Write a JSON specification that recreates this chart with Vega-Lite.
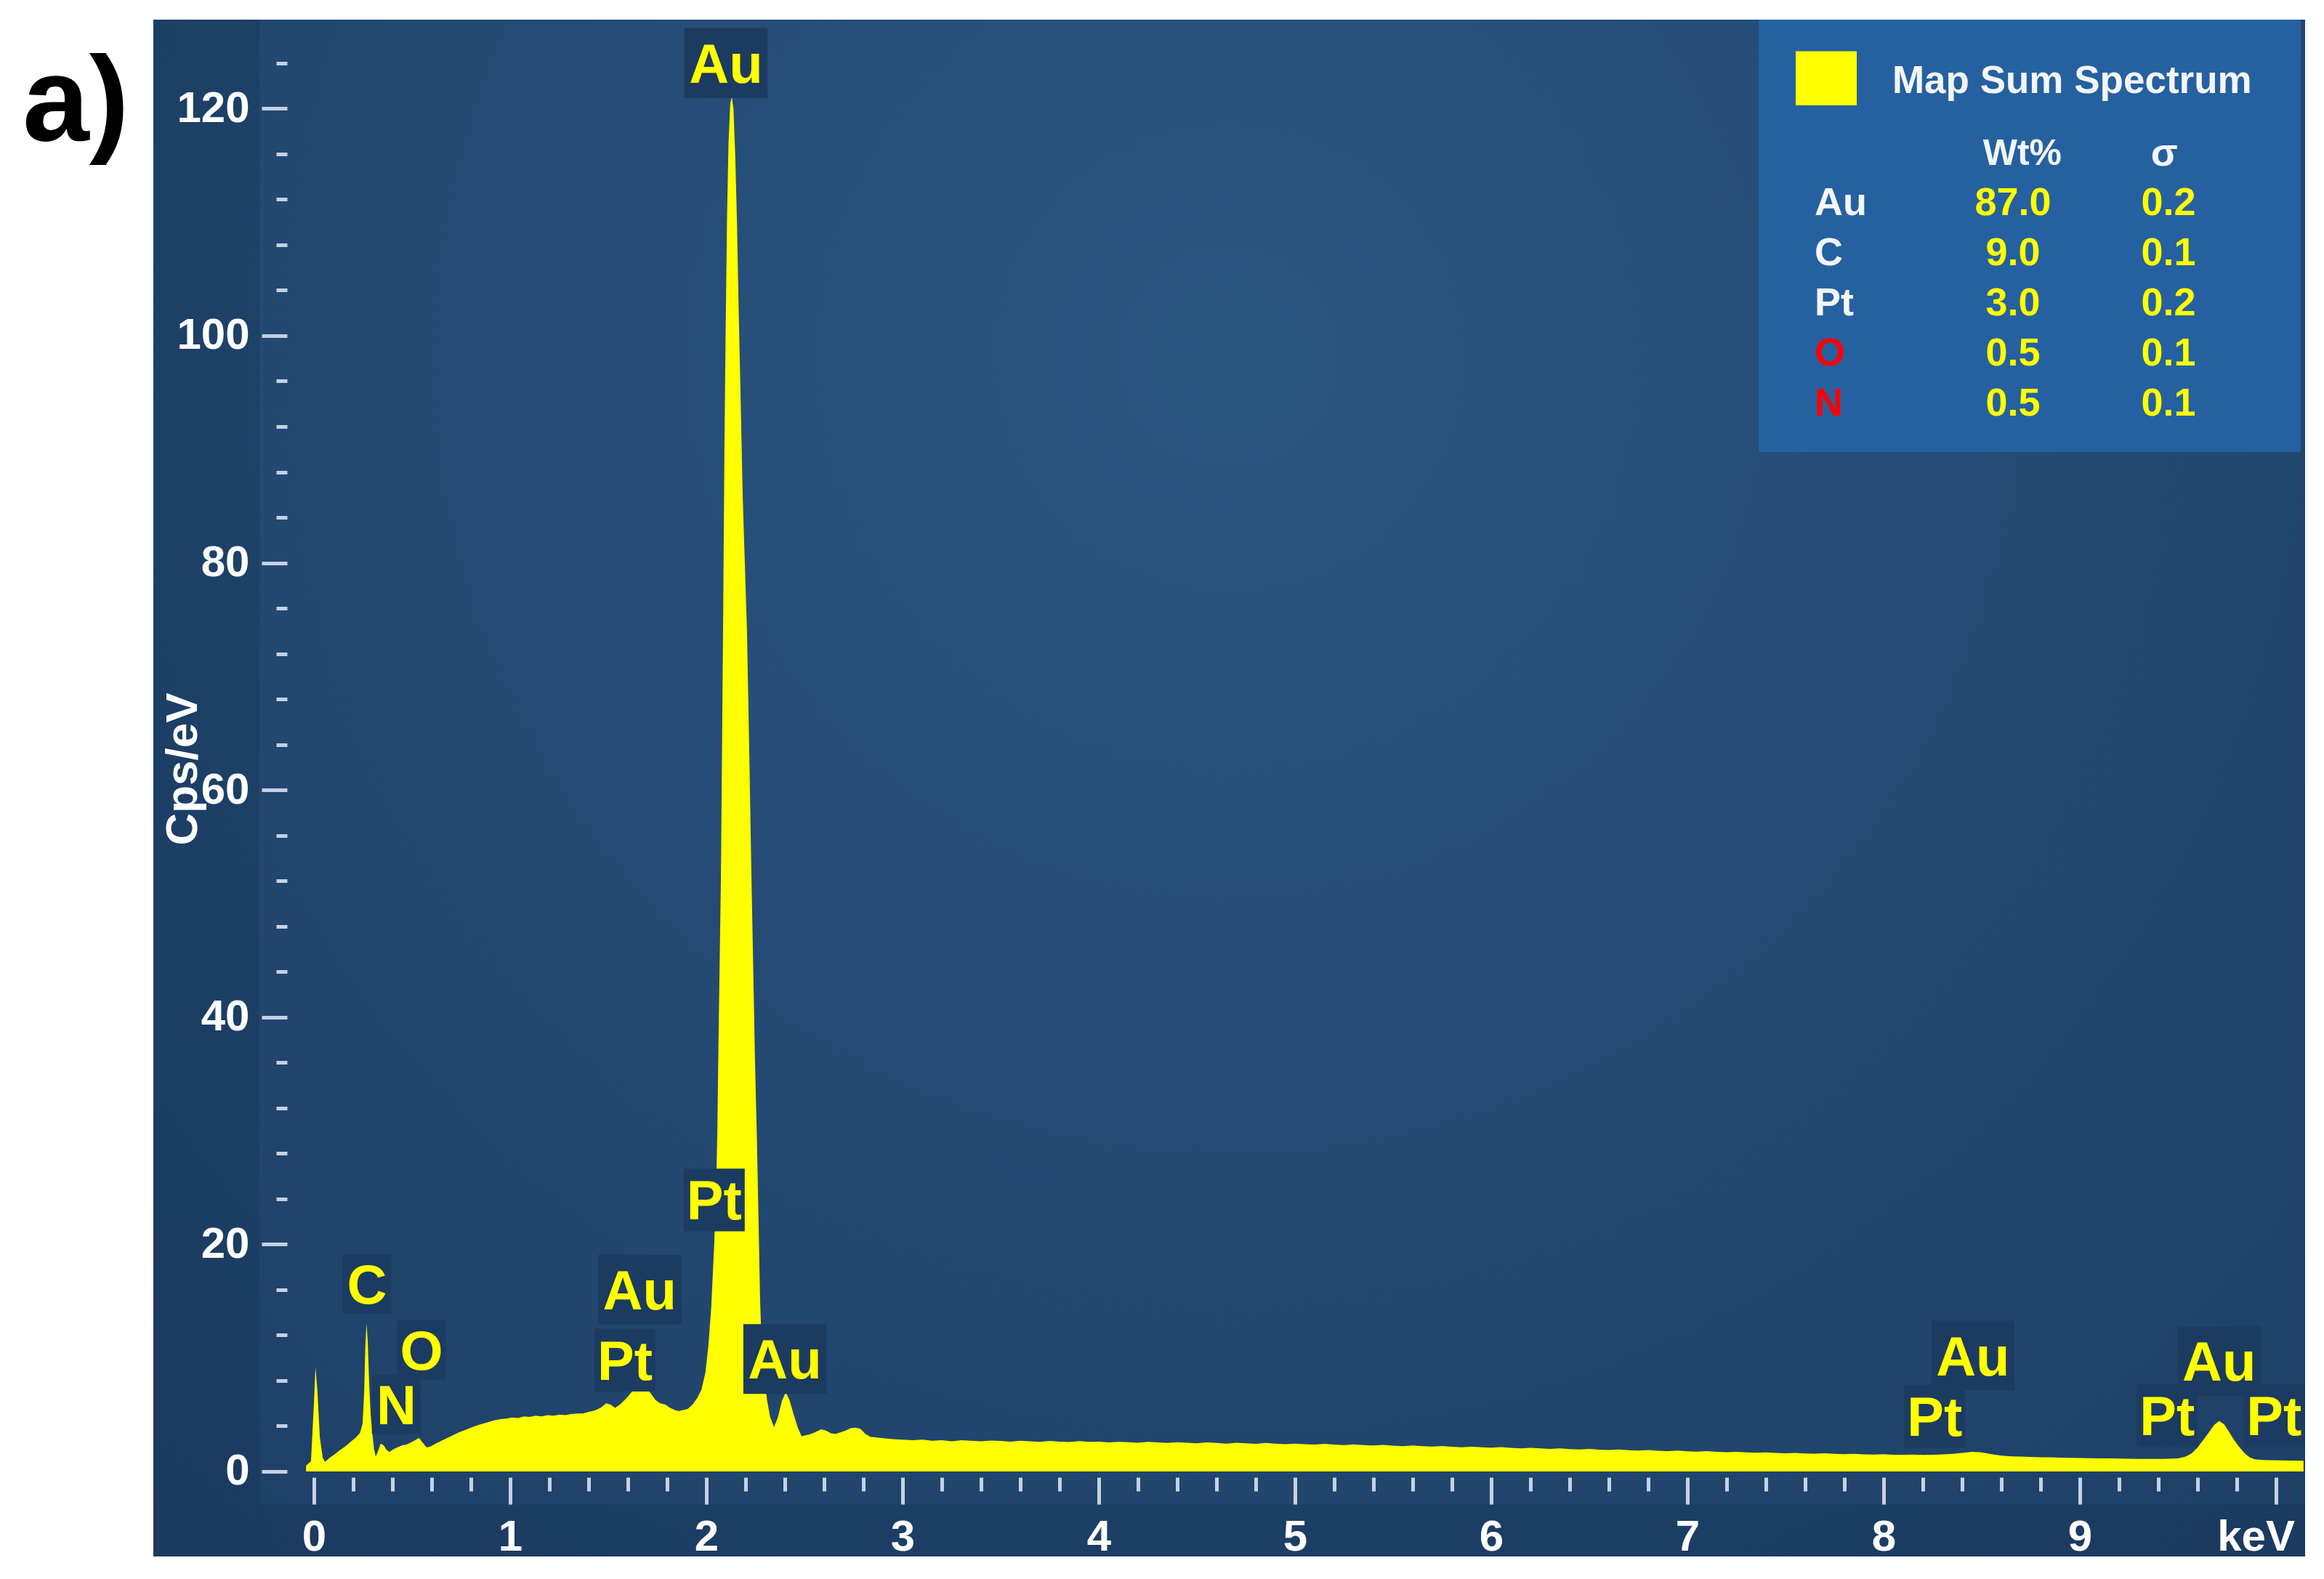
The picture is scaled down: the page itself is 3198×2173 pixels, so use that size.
{
  "$schema": "https://vega.github.io/schema/vega-lite/v6.json",
  "width": 2961,
  "height": 2115,
  "autosize": {"type": "none"},
  "padding": {"left": 211, "top": 27, "right": 26, "bottom": 31},
  "background": "white",
  "config": {"view": {"stroke": null}, "font": "Liberation Sans"},
  "datasets": {
    "spectrum": [
      {"keV": -0.04, "cps": 0.5}, {"keV": -0.015, "cps": 0.9}, {"keV": 0.0, "cps": 6.0}, {"keV": 0.008, "cps": 9.2},
      {"keV": 0.018, "cps": 7.0}, {"keV": 0.03, "cps": 3.0}, {"keV": 0.045, "cps": 1.2}, {"keV": 0.056, "cps": 0.85},
      {"keV": 0.08, "cps": 1.2}, {"keV": 0.105, "cps": 1.5}, {"keV": 0.13, "cps": 1.85}, {"keV": 0.16, "cps": 2.2},
      {"keV": 0.19, "cps": 2.65}, {"keV": 0.215, "cps": 3.0}, {"keV": 0.235, "cps": 3.4}, {"keV": 0.248, "cps": 4.2},
      {"keV": 0.256, "cps": 7.0}, {"keV": 0.262, "cps": 11.0}, {"keV": 0.268, "cps": 13.0}, {"keV": 0.274, "cps": 11.5},
      {"keV": 0.281, "cps": 8.0}, {"keV": 0.289, "cps": 5.0}, {"keV": 0.298, "cps": 3.3}, {"keV": 0.306, "cps": 2.0},
      {"keV": 0.315, "cps": 1.3}, {"keV": 0.327, "cps": 1.8}, {"keV": 0.34, "cps": 2.45}, {"keV": 0.355, "cps": 2.3},
      {"keV": 0.37, "cps": 1.9}, {"keV": 0.385, "cps": 1.7}, {"keV": 0.4, "cps": 1.9}, {"keV": 0.415, "cps": 2.05},
      {"keV": 0.43, "cps": 2.15}, {"keV": 0.45, "cps": 2.3}, {"keV": 0.47, "cps": 2.35}, {"keV": 0.495, "cps": 2.55},
      {"keV": 0.515, "cps": 2.75}, {"keV": 0.535, "cps": 2.95}, {"keV": 0.555, "cps": 2.5}, {"keV": 0.575, "cps": 2.1},
      {"keV": 0.595, "cps": 2.2}, {"keV": 0.62, "cps": 2.45}, {"keV": 0.65, "cps": 2.7}, {"keV": 0.68, "cps": 2.95},
      {"keV": 0.71, "cps": 3.2}, {"keV": 0.74, "cps": 3.45}, {"keV": 0.77, "cps": 3.65}, {"keV": 0.8, "cps": 3.85},
      {"keV": 0.83, "cps": 4.05}, {"keV": 0.86, "cps": 4.2}, {"keV": 0.89, "cps": 4.35}, {"keV": 0.92, "cps": 4.5},
      {"keV": 0.95, "cps": 4.6}, {"keV": 0.98, "cps": 4.65}, {"keV": 1.01, "cps": 4.75}, {"keV": 1.04, "cps": 4.7},
      {"keV": 1.07, "cps": 4.85}, {"keV": 1.1, "cps": 4.8}, {"keV": 1.13, "cps": 4.9}, {"keV": 1.16, "cps": 4.85},
      {"keV": 1.19, "cps": 4.95}, {"keV": 1.22, "cps": 4.9}, {"keV": 1.25, "cps": 5.0}, {"keV": 1.28, "cps": 4.95},
      {"keV": 1.31, "cps": 5.05}, {"keV": 1.34, "cps": 5.1}, {"keV": 1.37, "cps": 5.1}, {"keV": 1.4, "cps": 5.25},
      {"keV": 1.43, "cps": 5.35}, {"keV": 1.46, "cps": 5.6}, {"keV": 1.49, "cps": 6.0}, {"keV": 1.51, "cps": 5.9},
      {"keV": 1.535, "cps": 5.6}, {"keV": 1.56, "cps": 5.9}, {"keV": 1.59, "cps": 6.4}, {"keV": 1.62, "cps": 7.0},
      {"keV": 1.645, "cps": 7.3}, {"keV": 1.67, "cps": 7.2}, {"keV": 1.695, "cps": 7.3}, {"keV": 1.715, "cps": 6.9},
      {"keV": 1.74, "cps": 6.3}, {"keV": 1.765, "cps": 6.0}, {"keV": 1.79, "cps": 5.9}, {"keV": 1.815, "cps": 5.6},
      {"keV": 1.84, "cps": 5.4}, {"keV": 1.86, "cps": 5.3}, {"keV": 1.88, "cps": 5.4}, {"keV": 1.905, "cps": 5.5},
      {"keV": 1.93, "cps": 5.9}, {"keV": 1.955, "cps": 6.5}, {"keV": 1.975, "cps": 7.2}, {"keV": 1.995, "cps": 8.7},
      {"keV": 2.01, "cps": 11.0}, {"keV": 2.025, "cps": 14.5}, {"keV": 2.04, "cps": 20.0}, {"keV": 2.05, "cps": 25.0},
      {"keV": 2.056, "cps": 30.0}, {"keV": 2.062, "cps": 38.0}, {"keV": 2.068, "cps": 45.0}, {"keV": 2.074, "cps": 52.0},
      {"keV": 2.08, "cps": 64.0}, {"keV": 2.086, "cps": 76.0}, {"keV": 2.092, "cps": 90.0}, {"keV": 2.098, "cps": 100.0},
      {"keV": 2.105, "cps": 110.0}, {"keV": 2.113, "cps": 117.0}, {"keV": 2.122, "cps": 120.5}, {"keV": 2.13, "cps": 121.0},
      {"keV": 2.138, "cps": 120.0}, {"keV": 2.147, "cps": 116.0}, {"keV": 2.156, "cps": 110.0}, {"keV": 2.165, "cps": 102.0},
      {"keV": 2.174, "cps": 95.0}, {"keV": 2.185, "cps": 86.0}, {"keV": 2.196, "cps": 80.0}, {"keV": 2.207, "cps": 74.0},
      {"keV": 2.218, "cps": 64.0}, {"keV": 2.228, "cps": 54.0}, {"keV": 2.238, "cps": 45.0}, {"keV": 2.248, "cps": 36.0},
      {"keV": 2.258, "cps": 29.0}, {"keV": 2.266, "cps": 22.0}, {"keV": 2.274, "cps": 15.0}, {"keV": 2.282, "cps": 11.0},
      {"keV": 2.295, "cps": 8.2}, {"keV": 2.31, "cps": 6.2}, {"keV": 2.325, "cps": 4.8}, {"keV": 2.345, "cps": 3.9},
      {"keV": 2.365, "cps": 4.8}, {"keV": 2.385, "cps": 6.2}, {"keV": 2.405, "cps": 7.0}, {"keV": 2.425, "cps": 6.2},
      {"keV": 2.445, "cps": 5.0}, {"keV": 2.465, "cps": 3.9}, {"keV": 2.485, "cps": 3.1}, {"keV": 2.51, "cps": 3.2},
      {"keV": 2.535, "cps": 3.3}, {"keV": 2.56, "cps": 3.5}, {"keV": 2.585, "cps": 3.7}, {"keV": 2.61, "cps": 3.6},
      {"keV": 2.635, "cps": 3.35}, {"keV": 2.66, "cps": 3.3}, {"keV": 2.685, "cps": 3.45}, {"keV": 2.71, "cps": 3.6},
      {"keV": 2.735, "cps": 3.8}, {"keV": 2.76, "cps": 3.85}, {"keV": 2.785, "cps": 3.75}, {"keV": 2.81, "cps": 3.3},
      {"keV": 2.835, "cps": 3.05}, {"keV": 2.86, "cps": 3.0}, {"keV": 2.885, "cps": 2.95}, {"keV": 2.91, "cps": 2.9},
      {"keV": 2.95, "cps": 2.85}, {"keV": 3.0, "cps": 2.8}, {"keV": 3.05, "cps": 2.75}, {"keV": 3.1, "cps": 2.8},
      {"keV": 3.15, "cps": 2.7}, {"keV": 3.2, "cps": 2.75}, {"keV": 3.25, "cps": 2.65}, {"keV": 3.3, "cps": 2.75},
      {"keV": 3.35, "cps": 2.7}, {"keV": 3.4, "cps": 2.65}, {"keV": 3.45, "cps": 2.72}, {"keV": 3.5, "cps": 2.68},
      {"keV": 3.55, "cps": 2.62}, {"keV": 3.6, "cps": 2.7}, {"keV": 3.65, "cps": 2.65}, {"keV": 3.7, "cps": 2.6},
      {"keV": 3.75, "cps": 2.68}, {"keV": 3.8, "cps": 2.62}, {"keV": 3.85, "cps": 2.58}, {"keV": 3.9, "cps": 2.66},
      {"keV": 3.95, "cps": 2.6}, {"keV": 4.0, "cps": 2.62}, {"keV": 4.05, "cps": 2.55}, {"keV": 4.1, "cps": 2.6},
      {"keV": 4.15, "cps": 2.57}, {"keV": 4.2, "cps": 2.52}, {"keV": 4.25, "cps": 2.6}, {"keV": 4.3, "cps": 2.55},
      {"keV": 4.35, "cps": 2.5}, {"keV": 4.4, "cps": 2.57}, {"keV": 4.45, "cps": 2.52}, {"keV": 4.5, "cps": 2.48},
      {"keV": 4.55, "cps": 2.55}, {"keV": 4.6, "cps": 2.5}, {"keV": 4.65, "cps": 2.45}, {"keV": 4.7, "cps": 2.52},
      {"keV": 4.75, "cps": 2.47}, {"keV": 4.8, "cps": 2.42}, {"keV": 4.85, "cps": 2.5}, {"keV": 4.9, "cps": 2.44},
      {"keV": 4.95, "cps": 2.4}, {"keV": 5.0, "cps": 2.45}, {"keV": 5.05, "cps": 2.4}, {"keV": 5.1, "cps": 2.36},
      {"keV": 5.15, "cps": 2.42}, {"keV": 5.2, "cps": 2.36}, {"keV": 5.25, "cps": 2.32}, {"keV": 5.3, "cps": 2.38},
      {"keV": 5.35, "cps": 2.32}, {"keV": 5.4, "cps": 2.28}, {"keV": 5.45, "cps": 2.33}, {"keV": 5.5, "cps": 2.27},
      {"keV": 5.55, "cps": 2.22}, {"keV": 5.6, "cps": 2.28}, {"keV": 5.65, "cps": 2.22}, {"keV": 5.7, "cps": 2.18},
      {"keV": 5.75, "cps": 2.24}, {"keV": 5.8, "cps": 2.17}, {"keV": 5.85, "cps": 2.13}, {"keV": 5.9, "cps": 2.18},
      {"keV": 5.95, "cps": 2.12}, {"keV": 6.0, "cps": 2.09}, {"keV": 6.05, "cps": 2.14}, {"keV": 6.1, "cps": 2.07},
      {"keV": 6.15, "cps": 2.03}, {"keV": 6.2, "cps": 2.08}, {"keV": 6.25, "cps": 2.02}, {"keV": 6.3, "cps": 1.98},
      {"keV": 6.35, "cps": 2.03}, {"keV": 6.4, "cps": 1.97}, {"keV": 6.45, "cps": 1.93}, {"keV": 6.5, "cps": 1.98},
      {"keV": 6.55, "cps": 1.92}, {"keV": 6.6, "cps": 1.88}, {"keV": 6.65, "cps": 1.93}, {"keV": 6.7, "cps": 1.87},
      {"keV": 6.75, "cps": 1.84}, {"keV": 6.8, "cps": 1.88}, {"keV": 6.85, "cps": 1.82}, {"keV": 6.9, "cps": 1.79},
      {"keV": 6.95, "cps": 1.83}, {"keV": 7.0, "cps": 1.77}, {"keV": 7.05, "cps": 1.74}, {"keV": 7.1, "cps": 1.78},
      {"keV": 7.15, "cps": 1.72}, {"keV": 7.2, "cps": 1.69}, {"keV": 7.25, "cps": 1.73}, {"keV": 7.3, "cps": 1.67},
      {"keV": 7.35, "cps": 1.65}, {"keV": 7.4, "cps": 1.68}, {"keV": 7.45, "cps": 1.62}, {"keV": 7.5, "cps": 1.6},
      {"keV": 7.55, "cps": 1.63}, {"keV": 7.6, "cps": 1.58}, {"keV": 7.65, "cps": 1.56}, {"keV": 7.7, "cps": 1.59},
      {"keV": 7.75, "cps": 1.54}, {"keV": 7.8, "cps": 1.52}, {"keV": 7.85, "cps": 1.55}, {"keV": 7.9, "cps": 1.5},
      {"keV": 7.95, "cps": 1.49}, {"keV": 8.0, "cps": 1.52}, {"keV": 8.05, "cps": 1.47}, {"keV": 8.1, "cps": 1.46},
      {"keV": 8.15, "cps": 1.49}, {"keV": 8.2, "cps": 1.45}, {"keV": 8.25, "cps": 1.47}, {"keV": 8.3, "cps": 1.5},
      {"keV": 8.35, "cps": 1.55}, {"keV": 8.4, "cps": 1.62}, {"keV": 8.45, "cps": 1.72}, {"keV": 8.5, "cps": 1.68},
      {"keV": 8.55, "cps": 1.52}, {"keV": 8.6, "cps": 1.38}, {"keV": 8.65, "cps": 1.33}, {"keV": 8.7, "cps": 1.3},
      {"keV": 8.75, "cps": 1.28}, {"keV": 8.8, "cps": 1.25}, {"keV": 8.85, "cps": 1.24}, {"keV": 8.9, "cps": 1.21},
      {"keV": 8.95, "cps": 1.2}, {"keV": 9.0, "cps": 1.18}, {"keV": 9.05, "cps": 1.17}, {"keV": 9.1, "cps": 1.15},
      {"keV": 9.15, "cps": 1.14}, {"keV": 9.2, "cps": 1.13}, {"keV": 9.25, "cps": 1.12}, {"keV": 9.3, "cps": 1.1},
      {"keV": 9.35, "cps": 1.1}, {"keV": 9.4, "cps": 1.1}, {"keV": 9.45, "cps": 1.11}, {"keV": 9.5, "cps": 1.15},
      {"keV": 9.54, "cps": 1.3}, {"keV": 9.57, "cps": 1.6}, {"keV": 9.6, "cps": 2.1}, {"keV": 9.63, "cps": 2.8},
      {"keV": 9.66, "cps": 3.5}, {"keV": 9.685, "cps": 4.1}, {"keV": 9.71, "cps": 4.45}, {"keV": 9.735, "cps": 4.15},
      {"keV": 9.76, "cps": 3.5}, {"keV": 9.785, "cps": 2.8}, {"keV": 9.81, "cps": 2.2}, {"keV": 9.84, "cps": 1.6},
      {"keV": 9.865, "cps": 1.25}, {"keV": 9.89, "cps": 1.06}, {"keV": 9.93, "cps": 1.0}, {"keV": 9.97, "cps": 0.98},
      {"keV": 10.02, "cps": 0.97}, {"keV": 10.07, "cps": 0.95}, {"keV": 10.14, "cps": 0.94}
    ],
    "peaks": [
      {"label": "Au", "keV": 2.1, "y": 124.0},
      {"label": "Pt", "keV": 2.04, "y": 23.9},
      {"label": "Au", "keV": 1.66, "y": 16.0},
      {"label": "Pt", "keV": 1.585, "y": 9.8},
      {"label": "Au", "keV": 2.4, "y": 9.9},
      {"label": "C", "keV": 0.27, "y": 16.5},
      {"label": "O", "keV": 0.548, "y": 10.7},
      {"label": "N", "keV": 0.42, "y": 5.9},
      {"label": "Au", "keV": 8.455, "y": 10.2},
      {"label": "Pt", "keV": 8.26, "y": 4.86},
      {"label": "Au", "keV": 9.71, "y": 9.7},
      {"label": "Pt", "keV": 9.445, "y": 4.9},
      {"label": "Pt", "keV": 9.99, "y": 4.9}
    ],
    "quant": [
      {"element": "Au", "wt": 87.0, "sigma": 0.2, "flagged": false},
      {"element": "C", "wt": 9.0, "sigma": 0.1, "flagged": false},
      {"element": "Pt", "wt": 3.0, "sigma": 0.2, "flagged": false},
      {"element": "O", "wt": 0.5, "sigma": 0.1, "flagged": true},
      {"element": "N", "wt": 0.5, "sigma": 0.1, "flagged": true}
    ]
  },
  "layer": [
    {
      "layer": [
        {
          "data": {"values": [{}]},
          "mark": {"type": "rect", "fill": {"gradient": "radial", "x1": 0.5, "y1": 0.3, "r1": 0, "x2": 0.5, "y2": 0.3, "r2": 0.75, "stops": [{"offset": 0, "color": "#2a5682"}, {"offset": 1, "color": "#1e3f66"}]}, "stroke": null},
          "encoding": {
            "x": {"datum": -0.8185, "type": "quantitative", "title": null},
            "x2": {"datum": 10.148},
            "y": {"datum": 127.83, "type": "quantitative", "title": "Cps/eV"},
            "y2": {"datum": -7.49}
          }
        },
        {
          "data": {"values": [{}]},
          "mark": {"type": "rect", "fill": "#0f2a4b", "opacity": 0.22},
          "encoding": {
            "x": {"datum": -0.8185, "type": "quantitative", "title": null},
            "x2": {"datum": -0.278},
            "y": {"datum": 127.83, "type": "quantitative", "title": "Cps/eV"},
            "y2": {"datum": -7.49}
          }
        },
        {
          "data": {"values": [{}]},
          "mark": {"type": "rect", "fill": "#0f2a4b", "opacity": 0.22},
          "encoding": {
            "x": {"datum": -0.278, "type": "quantitative", "title": null},
            "x2": {"datum": 10.148},
            "y": {"datum": -2.88, "type": "quantitative", "title": "Cps/eV"},
            "y2": {"datum": -7.49}
          }
        },
        {
          "data": {"name": "spectrum"},
          "mark": {"type": "area", "color": "#ffff00", "interpolate": "linear"},
          "encoding": {
            "x": {
              "field": "keV", "type": "quantitative", "title": null,
              "scale": {"domain": [-0.8185, 10.148], "nice": false, "zero": false},
              "axis": {
                "title": null,
                "zindex": 1,
                "values": [0, 0.2, 0.4, 0.6, 0.8, 1, 1.2, 1.4, 1.6, 1.8, 2, 2.2, 2.4, 2.6, 2.8, 3, 3.2, 3.4, 3.6, 3.8, 4, 4.2, 4.4, 4.6, 4.8, 5, 5.2, 5.4, 5.6, 5.8, 6, 6.2, 6.4, 6.6, 6.8, 7, 7.2, 7.4, 7.6, 7.8, 8, 8.2, 8.4, 8.6, 8.8, 9, 9.2, 9.4, 9.6, 9.8, 10],
                "offset": -109,
                "domain": false,
                "grid": false,
                "tickColor": "#c6d1e2",
                "tickWidth": 5,
                "tickSize": {"condition": {"test": "datum.value % 1 === 0", "value": 37}, "value": 19},
                "labelExpr": "datum.value % 1 === 0 ? (datum.value === 10 ? 'keV' : format(datum.value, 'd')) : ''",
                "labelColor": "#ffffff",
                "labelFont": "Liberation Sans",
                "labelFontSize": 60,
                "labelFontWeight": "bold",
                "labelPadding": 16,
                "labelOffset": {"condition": {"test": "datum.value === 10", "value": -28}, "value": 0},
                "labelOverlap": false,
                "labelBound": false,
                "labelFlush": false
              }
            },
            "y": {
              "field": "cps", "type": "quantitative", "title": "Cps/eV",
              "scale": {"domain": [-7.49, 127.83], "nice": false, "zero": false},
              "axis": {
                "zindex": 1,
                "values": [0, 2, 4, 6, 8, 10, 12, 14, 16, 18, 20, 22, 24, 26, 28, 30, 32, 34, 36, 38, 40, 42, 44, 46, 48, 50, 52, 54, 56, 58, 60, 62, 64, 66, 68, 70, 72, 74, 76, 78, 80, 82, 84, 86, 88, 90, 92, 94, 96, 98, 100, 102, 104, 106, 108, 110, 112, 114, 116, 118, 120, 122, 124, 126],
                "offset": -184,
                "domain": false,
                "grid": false,
                "tickColor": "#c6d1e2",
                "tickWidth": 5,
                "tickSize": {"condition": [{"test": "datum.value % 20 === 0", "value": 35}, {"test": "datum.value % 10 === 0", "value": 25}], "value": 15},
                "labelExpr": "datum.value % 20 === 0 ? datum.label : ''",
                "labelColor": "#ffffff",
                "labelFont": "Liberation Sans",
                "labelFontSize": 60,
                "labelFontWeight": "bold",
                "labelPadding": 17,
                "labelOverlap": false,
                "labelBound": false,
                "labelFlush": false,
                "title": "Cps/eV",
                "titleColor": "#ffffff",
                "titleFont": "Liberation Sans",
                "titleFontSize": 62,
                "titleFontWeight": "bold",
                "titleAngle": -90,
                "titleAlign": "center",
                "titleBaseline": "alphabetic",
                "titleX": -125,
                "titleY": 1031
              }
            },
            "y2": {"datum": 0}
          }
        },
        {
          "data": {"name": "peaks"},
          "mark": {"type": "point", "filled": true, "size": 9216, "color": "#1c3b61", "opacity": 1, "strokeWidth": 0},
          "encoding": {
            "x": {"field": "keV", "type": "quantitative", "title": null},
            "y": {"field": "y", "type": "quantitative", "title": "Cps/eV"},
            "shape": {
              "field": "label", "type": "nominal", "legend": null,
              "scale": {"domain": ["Au", "Pt", "C", "N", "O"], "range": ["M-1.19,-1H1.19V1H-1.19Z", "M-0.875,-0.9H0.875V0.9H-0.875Z", "M-0.7,-0.85H0.7V0.85H-0.7Z", "M-0.7,-0.85H0.7V0.85H-0.7Z", "M-0.7,-0.85H0.7V0.85H-0.7Z"]}
            }
          }
        },
        {
          "data": {"name": "peaks"},
          "mark": {"type": "text", "color": "#ffff00", "font": "Liberation Sans", "fontSize": 76, "fontWeight": "bold", "align": "center", "baseline": "middle", "dy": 4},
          "encoding": {
            "x": {"field": "keV", "type": "quantitative", "title": null},
            "y": {"field": "y", "type": "quantitative", "title": "Cps/eV"},
            "text": {"field": "label"}
          }
        },
        {
          "data": {"values": [{}]},
          "mark": {"type": "rect", "fill": "#2561a0"},
          "encoding": {
            "x": {"datum": 7.363, "type": "quantitative", "title": null},
            "x2": {"datum": 10.126},
            "y": {"datum": 127.83, "type": "quantitative", "title": "Cps/eV"},
            "y2": {"datum": 89.76}
          }
        },
        {
          "data": {"values": [{}]},
          "mark": {"type": "rect", "fill": "#ffff00"},
          "encoding": {
            "x": {"datum": 7.552, "type": "quantitative", "title": null},
            "x2": {"datum": 7.863},
            "y": {"datum": 125.05, "type": "quantitative", "title": "Cps/eV"},
            "y2": {"datum": 120.28}
          }
        },
        {
          "data": {"values": [{}]},
          "mark": {"type": "text", "text": "Map Sum Spectrum", "color": "#f4f6fa", "font": "Liberation Sans", "fontSize": 53, "fontWeight": "bold", "align": "left", "baseline": "middle", "dy": 2},
          "encoding": {
            "x": {"datum": 8.044, "type": "quantitative", "title": null},
            "y": {"datum": 122.5, "type": "quantitative", "title": "Cps/eV"}
          }
        },
        {
          "data": {"values": [{}]},
          "mark": {"type": "text", "text": "Wt%", "color": "#f4f6fa", "font": "Liberation Sans", "fontSize": 50, "fontWeight": "bold", "align": "center", "baseline": "middle", "dy": 2},
          "encoding": {
            "x": {"datum": 8.707, "type": "quantitative", "title": null},
            "y": {"datum": 116.1, "type": "quantitative", "title": "Cps/eV"}
          }
        },
        {
          "data": {"values": [{}]},
          "mark": {"type": "text", "text": "σ", "color": "#f4f6fa", "font": "Liberation Sans", "fontSize": 54, "fontWeight": "bold", "align": "center", "baseline": "middle", "dy": 2},
          "encoding": {
            "x": {"datum": 9.43, "type": "quantitative", "title": null},
            "y": {"datum": 116.1, "type": "quantitative", "title": "Cps/eV"}
          }
        },
        {
          "data": {"values": [{}]},
          "mark": {"type": "text", "text": "a)", "color": "#000000", "font": "Liberation Sans", "fontSize": 165, "fontWeight": "bold", "align": "left", "baseline": "middle"},
          "encoding": {
            "x": {"datum": -1.485, "type": "quantitative", "title": null},
            "y": {"datum": 120.4, "type": "quantitative", "title": "Cps/eV"}
          }
        }
      ]
    },
    {
      "data": {"name": "quant"},
      "encoding": {
        "y": {"field": "element", "type": "ordinal", "title": null, "axis": null, "scale": {"domain": ["Au", "C", "Pt", "O", "N"], "range": [251, 527], "padding": 0}}
      },
      "layer": [
        {
          "mark": {"type": "text", "font": "Liberation Sans", "fontSize": 54, "fontWeight": "bold", "align": "left", "baseline": "middle", "dy": 2},
          "encoding": {
            "x": {"datum": 7.648, "type": "quantitative", "title": null},
            "text": {"field": "element"},
            "color": {"condition": {"test": "datum.flagged", "value": "#ff0000"}, "value": "#f4f6fa"}
          }
        },
        {
          "mark": {"type": "text", "font": "Liberation Sans", "fontSize": 54, "fontWeight": "bold", "align": "center", "baseline": "middle", "dy": 2, "color": "#ffff00"},
          "encoding": {
            "x": {"datum": 8.659, "type": "quantitative", "title": null},
            "text": {"field": "wt", "format": ".1f"}
          }
        },
        {
          "mark": {"type": "text", "font": "Liberation Sans", "fontSize": 54, "fontWeight": "bold", "align": "center", "baseline": "middle", "dy": 2, "color": "#ffff00"},
          "encoding": {
            "x": {"datum": 9.452, "type": "quantitative", "title": null},
            "text": {"field": "sigma", "format": ".1f"}
          }
        }
      ]
    }
  ],
  "resolve": {"scale": {"y": "independent"}}
}
